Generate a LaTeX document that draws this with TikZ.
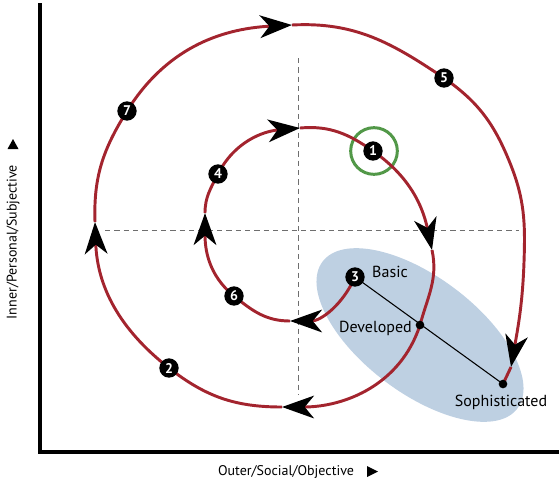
\documentclass[tikz,border=0pt]{standalone}
\usepackage{fontspec}
\setmainfont{PT Sans}
\usetikzlibrary{arrows.meta,shapes.geometric}
\definecolor{spiral}{RGB}{163,36,46}
\definecolor{ring}{RGB}{82,152,72}
\definecolor{blob}{RGB}{190,208,226}
\definecolor{guidegray}{RGB}{110,110,110}
\begin{document}
\begin{tikzpicture}[x=0.75pt,y=0.75pt,
  sp/.style={draw=spiral,line width=2.2pt,line join=round},
  arrowed/.style={-{Stealth[length=24pt,width=17pt,inset=7pt,color=black]}},
  num/.style={circle,fill=black,text=white,minimum size=14.5pt,inner sep=0pt,font=\bfseries\fontsize{10.5}{10.5}\selectfont},
  lbl/.style={font=\fontsize{12}{12}\selectfont,text=black,inner sep=0pt},
  axlbl/.style={font=\fontsize{10.5}{10.5}\selectfont,text=black,inner sep=0pt},
  blackdot/.style={circle,fill=black,minimum size=6.5pt,inner sep=0pt},
  guide/.style={draw=guidegray,line width=0.75pt,dash pattern=on 4pt off 3pt}]
\useasboundingbox (0,0) rectangle (559,-483);

% shaded region
\node[ellipse,fill=blob,minimum width=183pt,minimum height=87pt,inner sep=0pt,rotate=-37] (region) at (420,-335) {};

% guides
\coordinate (vt) at (298,-58);
\coordinate (vb) at (298,-395);
\coordinate (hl) at (105,-230);
\coordinate (hr) at (519,-230);
\draw[guide] (vt) -- (vb);
\draw[guide] (hl) -- (hr);

% axes
\coordinate (ytop) at (40,-3);
\coordinate (orig) at (40,-452);
\coordinate (xend) at (559,-452);
\draw[line width=2.6pt] (ytop) -- (orig) -- (xend);

% green ring
\node[circle,draw=ring,line width=2.25pt,minimum size=35pt,inner sep=0pt] (ringnode) at (374,-151) {};

% spiral coordinates
\coordinate (c3) at (355,-277);
\coordinate (a1) at (290,-321);
\coordinate (c6) at (234,-296);
\coordinate (a2) at (205,-213);
\coordinate (c4) at (218,-174);
\coordinate (a3) at (300,-128);
\coordinate (c1) at (373,-151);
\coordinate (a4) at (432,-250);
\coordinate (dv) at (420,-325);
\coordinate (a5) at (282,-407);
\coordinate (c2) at (169,-368);
\coordinate (a6) at (95,-222);
\coordinate (c7) at (127,-111);
\coordinate (a7) at (292,-25);
\coordinate (c5) at (444,-78);
\coordinate (rm) at (510,-163);
\coordinate (rr) at (524,-262);
\coordinate (a8) at (511,-367);
\coordinate (so) at (503,-384);

% line basic -> sophisticated
\draw[line width=0.8pt] (c3) -- (so);

% spiral
\draw[sp,arrowed] (c3) to[out=246,in=0] (a1);
\draw[sp,arrowed] (a1) to[out=180,in=321] (c6) to[out=141,in=270] (a2);
\draw[sp,arrowed] (a2) to[out=90,in=243] (c4) to[out=63,in=185] (a3);
\draw[sp,arrowed] (a3) to[out=5,in=145] (c1) to[out=-35,in=102] (a4);
\draw[sp,arrowed] (a4) to[out=-78,in=75] (dv) to[out=-108,in=0] (a5);
\draw[sp,arrowed] (a5) to[out=180,in=322] (c2) to[out=142,in=272] (a6);
\draw[sp,arrowed] (a6) to[out=92,in=238] (c7) to[out=58,in=183] (a7);
\draw[sp,arrowed] (a7) to[out=3,in=146] (c5) to[out=-35,in=112] (rm) to[out=-68,in=88] (rr) to[out=-92,in=80] (a8);
\draw[sp] (a8) -- (so);

% dots
\node[blackdot] (devdot) at (dv) {};
\node[blackdot] (sophdot) at (so) {};

% numbered markers
\node[num] (n1) at (c1) {1};
\node[num] (n2) at (c2) {2};
\node[num] (n3) at (c3) {3};
\node[num] (n4) at (c4) {4};
\node[num] (n5) at (c5) {5};
\node[num] (n6) at (c6) {6};
\node[num] (n7) at (c7) {7};

% labels
\node[lbl] (basic) at (390,-272) {Basic};
\node[lbl,anchor=east] (developed) at (412,-328) {Developed};
\node[lbl] (soph) at (501,-402) {Sophisticated};

% axis labels
\node[axlbl] (xlab) at (286,-472) {Outer/Social/Objective};
\fill (367,-466) -- (378,-471.5) -- (367,-477) -- cycle;
\node[axlbl,rotate=90] (ylab) at (13,-242) {Inner/Personal/Subjective};
\fill (7.5,-149) -- (13,-139) -- (18.5,-149) -- cycle;
\end{tikzpicture}
\end{document}
